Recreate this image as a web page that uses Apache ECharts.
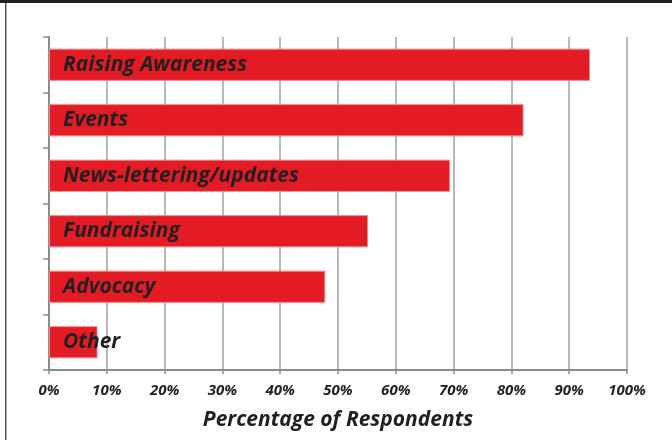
<!DOCTYPE html>
<html>
<head>
<meta charset="utf-8">
<script src="https://cdn.jsdelivr.net/npm/echarts@6/dist/echarts.min.js"></script>
<style>
html,body{margin:0;padding:0;background:#fff;}
#c{width:672px;height:440px;}
</style>
</head>
<body>
<div id="c"></div>
<script>
const categories = ["Raising Awareness", "Events", "News-lettering/updates", "Fundraising", "Advocacy", "Other"];
const values = [93.6, 82.1, 69.4, 55.2, 47.8, 8.4];
const xTicks = [0, 10, 20, 30, 40, 50, 60, 70, 80, 90, 100];
const axisTitle = "Percentage of Respondents";

const FONT = '"Open Sans", sans-serif';
const TXT = '#231f20';
const chart = echarts.init(document.getElementById('c'), null, {renderer: 'canvas'});
chart.setOption({
  animation: false,
  backgroundColor: '#fff',
  grid: {left: 49, right: 45, top: 37, bottom: 70, containLabel: false},
  xAxis: {
    type: 'value', min: xTicks[0], max: xTicks[xTicks.length - 1], interval: 10,
    axisLine: {show: true, lineStyle: {color: '#8c8c8c', width: 2}},
    axisTick: {show: true, length: 4, lineStyle: {color: '#8c8c8c', width: 1.5}},
    splitLine: {show: true, lineStyle: {color: '#a0a0a0', width: 1.5}},
    axisLabel: {formatter: '{value}%', color: TXT, fontFamily: FONT, fontSize: 15, fontWeight: 'bold', fontStyle: 'italic', margin: 13},
    name: axisTitle, nameLocation: 'middle', nameGap: 40,
    nameTextStyle: {color: TXT, fontFamily: FONT, fontSize: 21, fontWeight: 'bold', fontStyle: 'italic'}
  },
  yAxis: {
    type: 'category', data: categories, inverse: true,
    axisLine: {show: true, lineStyle: {color: '#8c8c8c', width: 2}},
    axisTick: {show: true, length: 6, lineStyle: {color: '#8c8c8c', width: 1.5}},
    axisLabel: {show: false}
  },
  series: [{
    type: 'bar', data: values, barCategoryGap: '42%',
    itemStyle: {color: '#e31b24', borderColor: '#f0868b', borderWidth: 1},
    label: {
      show: true, position: 'insideLeft', distance: 14,
      formatter: p => p.name,
      color: TXT, fontFamily: FONT, fontSize: 21, fontWeight: 'bold', fontStyle: 'italic'
    }
  }],
  graphic: [
    {type: 'rect', shape: {x: 0, y: 0, width: 672, height: 3}, style: {fill: '#231f20'}},
    {type: 'rect', shape: {x: 5, y: 3, width: 1.5, height: 437}, style: {fill: '#555'}}
  ]
});
</script>
</body>
</html>
